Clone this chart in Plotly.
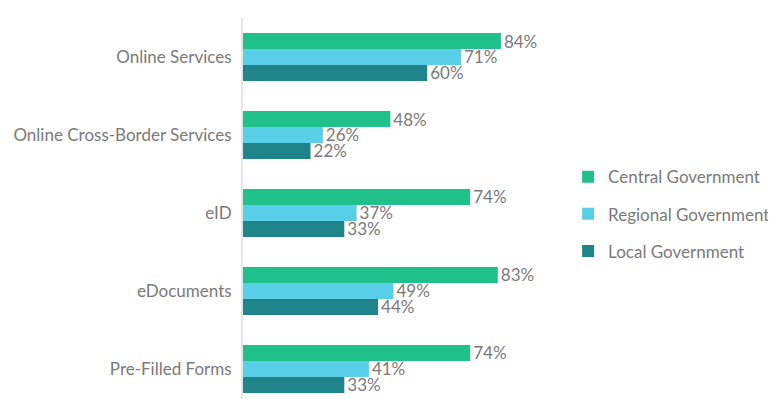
import plotly.graph_objects as go

categories = ["Online Services", "Online Cross-Border Services", "eID", "eDocuments", "Pre-Filled Forms"]
central = [84, 48, 74, 83, 74]
regional = [71, 26, 37, 49, 41]
local = [60, 22, 33, 44, 33]

series = [
    ("Central Government", central, "#20C08A"),
    ("Regional Government", regional, "#58CFE6"),
    ("Local Government", local, "#1E8489"),
]

FONT = "Lato"
GREY = "#7a7a7a"

fig = go.Figure()
for i, (name, vals, col) in enumerate(series):
    fig.add_trace(go.Bar(
        name=name, y=categories, x=vals, orientation="h",
        marker=dict(color=col, line=dict(width=0)),
        text=[f"{v}%" for v in vals], textposition="outside",
        constraintext="none",
        textfont=dict(family=FONT, size=17, color=GREY),
        cliponaxis=False, legendgroup=f"g{i}",
        hoverinfo="skip",
    ))

fig.update_layout(
    width=776, height=399,
    margin=dict(l=235, r=234, t=10, b=8, autoexpand=False),
    paper_bgcolor="white", plot_bgcolor="white",
    barmode="group", bargap=0.385, bargroupgap=0,
    font=dict(family=FONT, size=17, color=GREY),
    legend=dict(x=1.059, y=0.485, xanchor="left", yanchor="middle",
                traceorder="grouped", tracegroupgap=12,
                itemwidth=30,
                font=dict(family=FONT, size=17, color=GREY)),
    xaxis=dict(range=[0, 100], visible=False, showgrid=False, zeroline=False),
    yaxis=dict(range=[4.385, -0.5], showgrid=False, zeroline=False,
               showline=True, linecolor="#e6e6e6", linewidth=2,
               ticks="", ticklabelstandoff=6,
               tickfont=dict(family=FONT, size=17, color=GREY)),
)

fig.write_html("out.html")
